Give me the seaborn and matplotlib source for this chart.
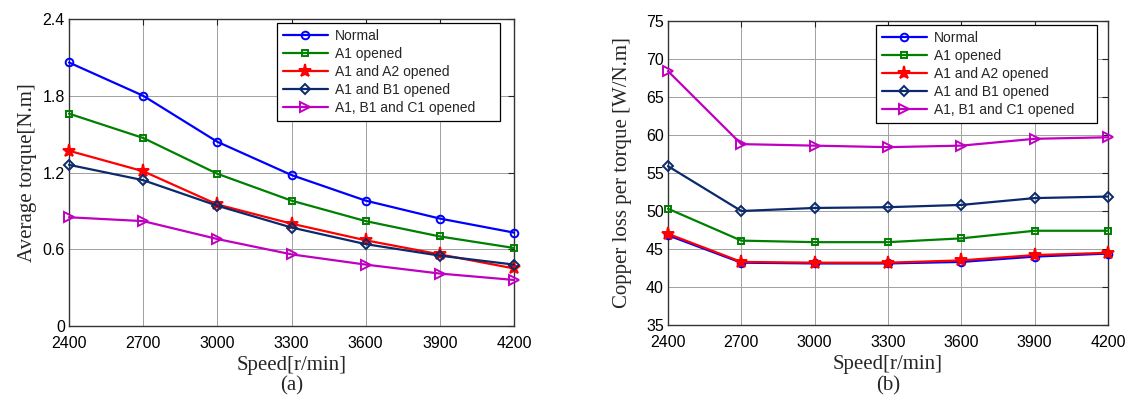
import numpy as np
import pandas as pd
import matplotlib
matplotlib.use("Agg")
import matplotlib.pyplot as plt
import seaborn as sns

speeds = [2400, 2700, 3000, 3300, 3600, 3900, 4200]
labels = ["Normal", "A1 opened", "A1 and A2 opened", "A1 and B1 opened", "A1, B1 and C1 opened"]

torque_normal = [2.06, 1.80, 1.44, 1.18, 0.98, 0.84, 0.73]
torque_a1 = [1.66, 1.47, 1.19, 0.98, 0.82, 0.70, 0.61]
torque_a1a2 = [1.37, 1.21, 0.95, 0.80, 0.67, 0.56, 0.45]
torque_a1b1 = [1.26, 1.14, 0.94, 0.77, 0.64, 0.55, 0.48]
torque_a1b1c1 = [0.85, 0.82, 0.68, 0.56, 0.48, 0.41, 0.36]

loss_normal = [46.8, 43.2, 43.1, 43.1, 43.3, 44.0, 44.4]
loss_a1 = [50.3, 46.1, 45.9, 45.9, 46.4, 47.4, 47.4]
loss_a1a2 = [47.0, 43.3, 43.2, 43.2, 43.5, 44.2, 44.5]
loss_a1b1 = [55.9, 50.0, 50.4, 50.5, 50.8, 51.7, 51.9]
loss_a1b1c1 = [68.4, 58.8, 58.6, 58.4, 58.6, 59.5, 59.7]

torque_series = [torque_normal, torque_a1, torque_a1a2, torque_a1b1, torque_a1b1c1]
loss_series = [loss_normal, loss_a1, loss_a1a2, loss_a1b1, loss_a1b1c1]

colors = ["#0000ff", "#008000", "#ff0000", "#0b2a6b", "#c000c0"]
markers = ["o", "s", "*", "D", ">"]
msizes = [5.5, 5.0, 9.5, 5.0, 7.0]
filled = [False, False, True, False, False]

sns.set_style("white")
plt.rcParams["font.family"] = ["Liberation Sans", "DejaVu Sans"]

fig = plt.figure(figsize=(11.28, 4.0), dpi=100)
ax1 = fig.add_axes([69/1128, 74/400, 445/1128, 307/400])
ax2 = fig.add_axes([668/1128, 75/400, 440/1128, 304/400])


def draw(ax, series):
    for lab, vals, c, m, ms, f in zip(labels, series, colors, markers, msizes, filled):
        df = pd.DataFrame({"speed": speeds, "value": vals})
        sns.lineplot(data=df, x="speed", y="value", ax=ax, color=c, marker=m,
                     markersize=ms, linewidth=1.6, label=lab,
                     markerfacecolor=(c if f else "none"), markeredgecolor=c,
                     markeredgewidth=1.4, clip_on=False, zorder=3)


draw(ax1, torque_series)
draw(ax2, loss_series)

serif = ["Liberation Serif", "DejaVu Serif"]
legend_boxes = {
    0: ((277 - 69) / 445, 1 - 4 / 307, (500 - 277) / 445),
    1: ((876 - 668) / 440, 1 - 4 / 304, (1097 - 876) / 440),
}
for i, ax in enumerate((ax1, ax2)):
    ax.set_xlim(2400, 4200)
    ax.set_xticks(speeds)
    ax.set_xticklabels([str(s) for s in speeds])
    ax.grid(True, color="#a0a0a0", linewidth=0.7)
    ax.set_axisbelow(True)
    ax.tick_params(direction="in", top=True, right=True, labelsize=11.5,
                   length=4, width=0.8, colors="#222222", labelcolor="black", pad=3)
    ax.tick_params(axis="x", pad=7)
    for sp in ax.spines.values():
        sp.set_color("#333333")
        sp.set_linewidth(1.0)
    ax.set_xlabel("Speed[r/min]", fontsize=15, family=serif, labelpad=4)
    x0, ytop, w = legend_boxes[i]
    leg = ax.legend(loc="upper left", bbox_to_anchor=(x0, ytop - 0.3, w, 0.3),
                    mode="expand", fontsize=10,
                    frameon=True, fancybox=False, edgecolor="black", framealpha=1,
                    labelspacing=0.3, handlelength=3.3, borderpad=0.4,
                    handletextpad=0.45, borderaxespad=0.0)
    leg.get_frame().set_linewidth(0.9)

ax1.set_ylim(0, 2.4)
ax1.set_yticks([0, 0.6, 1.2, 1.8, 2.4])
ax1.set_yticklabels(["0", "0.6", "1.2", "1.8", "2.4"])
ax1.set_ylabel("Average torque[N.m]", fontsize=15, family=serif, labelpad=4)

ax2.set_ylim(35, 75)
ax2.set_yticks([35, 40, 45, 50, 55, 60, 65, 70, 75])
ax2.set_ylabel("Copper loss per torque [W/N.m]", fontsize=15, family=serif, labelpad=10)

fig.text((69 + 514) / 2 / 1128, 1 - 386 / 400, "(a)", ha="center", va="center",
         fontsize=15, family=serif)
fig.text((668 + 1108) / 2 / 1128, 1 - 386 / 400, "(b)", ha="center", va="center",
         fontsize=15, family=serif)

fig.savefig("out.png", dpi=100, facecolor="white")
